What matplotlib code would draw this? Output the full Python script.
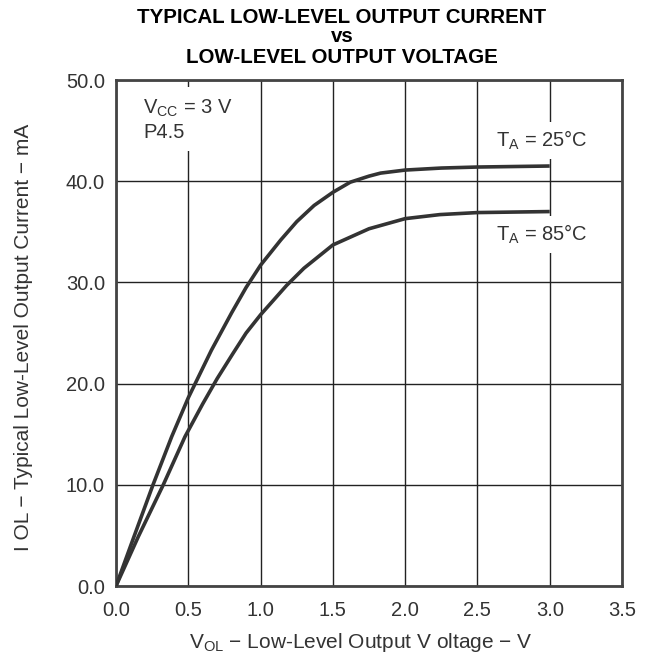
import matplotlib
matplotlib.use("Agg")
import matplotlib.pyplot as plt

plt.rcParams['font.family'] = ['Liberation Sans', 'DejaVu Sans']
plt.rcParams['mathtext.fontset'] = 'custom'
plt.rcParams['mathtext.rm'] = 'Liberation Sans'
plt.rcParams['mathtext.it'] = 'Liberation Sans'
plt.rcParams['mathtext.default'] = 'rm'

# Data
v_25 = [0, 0.125, 0.256, 0.385, 0.5, 0.66, 0.8, 0.9, 1.0, 1.14, 1.25, 1.37, 1.5, 1.62, 1.75, 1.83, 2.0, 2.25, 2.5, 3.0]
i_25 = [0, 4.9, 10, 14.75, 18.6, 23.3, 27.0, 29.5, 31.7, 34.2, 36.0, 37.6, 38.9, 39.9, 40.5, 40.8, 41.1, 41.3, 41.4, 41.5]
v_85 = [0, 0.155, 0.327, 0.477, 0.6, 0.7, 0.81, 0.9, 1.0, 1.18, 1.3, 1.5, 1.75, 2.0, 2.24, 2.5, 3.0]
i_85 = [0, 4.9, 10, 14.75, 18.0, 20.5, 23.0, 25.0, 26.8, 29.7, 31.4, 33.7, 35.3, 36.3, 36.7, 36.9, 37.0]
x_ticks = [0.0, 0.5, 1.0, 1.5, 2.0, 2.5, 3.0, 3.5]
y_ticks = [0.0, 10.0, 20.0, 30.0, 40.0, 50.0]

ink = '#333333'
W, H = 646, 654
fig = plt.figure(figsize=(W / 100, H / 100), dpi=100)
ax = fig.add_axes([116 / W, 68 / H, 506 / W, 506 / H])

ax.plot(v_25, i_25, color=ink, lw=2.6, solid_capstyle='butt', solid_joinstyle='round', zorder=3)
ax.plot(v_85, i_85, color=ink, lw=2.6, solid_capstyle='butt', solid_joinstyle='round', zorder=3)

ax.set_xlim(0, 3.5)
ax.set_ylim(0, 50)
ax.set_xticks(x_ticks)
ax.set_yticks(y_ticks)
ax.set_xticklabels([f"{t:.1f}" for t in x_ticks])
ax.set_yticklabels([f"{t:.1f}" for t in y_ticks])
ax.tick_params(length=0, labelsize=14.5, colors=ink)
ax.tick_params(axis='y', pad=8)
ax.tick_params(axis='x', pad=11)
ax.grid(True, color='#222222', lw=1.0)
ax.set_axisbelow(True)
for s in ax.spines.values():
    s.set_color('#444444')
    s.set_linewidth(2)

fig.text(361 / W, 1 - 642 / H, r"V$_{\mathrm{OL}}$ − Low-Level Output V oltage − V", fontsize=15,
         color=ink, ha='center', va='center')
fig.text(24 / W, 1 - 337 / H, "I OL − Typical Low-Level Output Current − mA", fontsize=15,
         color=ink, ha='center', va='center', rotation=90)

tx = 342 / W
fig.text(tx, 1 - 17.2 / H, "TYPICAL LOW-LEVEL OUTPUT CURRENT", ha='center', va='center',
         fontsize=14.8, fontweight='bold', color='black')
fig.text(tx, 1 - 41.7 / H, "vs", ha='center', va='baseline',
         fontsize=14.8, fontweight='bold', color='black')
fig.text(tx, 1 - 57.5 / H, "LOW-LEVEL OUTPUT VOLTAGE", ha='center', va='center',
         fontsize=14.8, fontweight='bold', color='black')

box = dict(facecolor='white', edgecolor='none', pad=5)
ax.text(0.19, 48.3, "V$_{\\mathrm{CC}}$ = 3 V\nP4.5", ha='left', va='top', fontsize=14.5, color=ink,
        linespacing=1.3, bbox=dict(facecolor='white', edgecolor='none', boxstyle='square,pad=0.45'), zorder=2)
ax.text(2.63, 44.0, "T$_{\\mathrm{A}}$ = 25°C", ha='left', va='center', fontsize=14.5, color=ink, bbox=box, zorder=2)
ax.text(2.63, 34.7, "T$_{\\mathrm{A}}$ = 85°C", ha='left', va='center', fontsize=14.5, color=ink, bbox=box, zorder=2)

fig.savefig("out.png", dpi=100, facecolor='white')
